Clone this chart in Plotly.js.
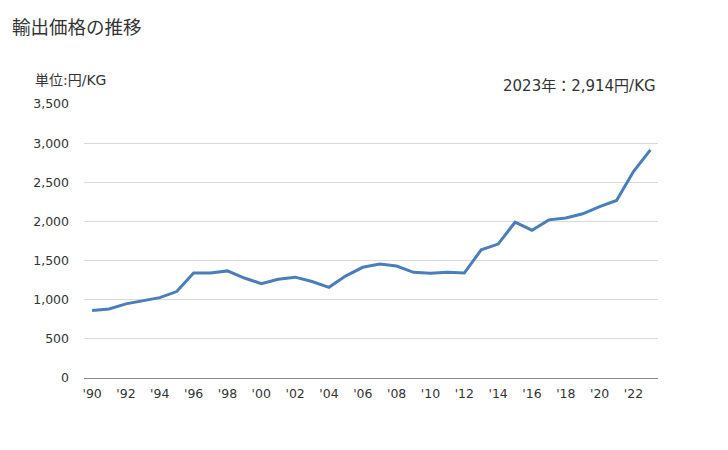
<!DOCTYPE html>
<html>
<head>
<meta charset="utf-8">
<script src="https://cdn.plot.ly/plotly-3.0.1.min.js"></script>
<style>html,body{margin:0;padding:0;background:#fff;}#chart{width:728px;height:450px;}</style>
</head>
<body>
<div id="chart"></div>
<script>
const years = [1990,1991,1992,1993,1994,1995,1996,1997,1998,1999,2000,2001,2002,2003,2004,2005,2006,2007,2008,2009,2010,2011,2012,2013,2014,2015,2016,2017,2018,2019,2020,2021,2022,2023];
const prices = [863,881,947,985,1027,1104,1341,1341,1368,1277,1206,1262,1288,1232,1158,1305,1414,1455,1430,1350,1338,1350,1341,1638,1711,1990,1888,2020,2045,2097,2190,2268,2638,2914];
const tickYears = [1990,1992,1994,1996,1998,2000,2002,2004,2006,2008,2010,2012,2014,2016,2018,2020,2022];
const tickLabels = ["'90","'92","'94","'96","'98","'00","'02","'04","'06","'08","'10","'12","'14","'16","'18","'20","'22"];
const yTicks = [0,500,1000,1500,2000,2500,3000,3500];
const yTickLabels = ["0","500","1,000","1,500","2,000","2,500","3,000","3,500"];
const chartTitle = "輸出価格の推移";
const unitLabel = "単位:円/KG";
const latestLabel = "2023年：2,914円/KG";

const font = "'DejaVu Sans', 'Noto Sans CJK JP', sans-serif";
Plotly.newPlot('chart', [{
  x: years, y: prices, type: 'scatter', mode: 'lines',
  line: {color: '#4a7ebb', width: 3}, hoverinfo: 'skip'
}], {
  width: 728, height: 450,
  margin: {l: 84, r: 70, t: 104, b: 72},
  paper_bgcolor: '#fff', plot_bgcolor: '#fff',
  font: {family: font, color: '#333', size: 12.5},
  showlegend: false,
  title: {text: chartTitle, x: 12/728, xref: 'container', xanchor: 'left', y: 1 - 28/450, yref: 'container', yanchor: 'middle',
          font: {size: 18.5, color: '#333', family: font}, pad: {l: 0, t: 0, b: 0, r: 0}},
  xaxis: {range: [1989.52, 2023.45], tickvals: tickYears, ticktext: tickLabels,
          showgrid: false, zeroline: false, showline: true, linecolor: '#888', linewidth: 1,
          ticks: '', ticklabelstandoff: 4, tickfont: {size: 12.5, color: '#333'}, fixedrange: true},
  yaxis: {range: [0, 3500], tickvals: yTicks, ticktext: yTickLabels,
          showgrid: true, gridcolor: '#d9d9d9', gridwidth: 1, zeroline: false,
          showline: false, ticks: '', ticklabelstandoff: 14, tickfont: {size: 12.5, color: '#333'}, fixedrange: true},
  annotations: [
    {text: unitLabel, xref: 'paper', yref: 'paper', x: (33-84)/574, y: 1.0, xanchor: 'left', yanchor: 'middle',
     yshift: 24, showarrow: false, font: {size: 14, color: '#333', family: font}},
    {text: latestLabel, xref: 'paper', yref: 'paper', x: 1.0, y: 1.0, xanchor: 'right', yanchor: 'middle',
     yshift: 18, showarrow: false, font: {size: 15, color: '#333', family: font}}
  ]
}, {displayModeBar: false, staticPlot: true});
</script>
</body>
</html>
